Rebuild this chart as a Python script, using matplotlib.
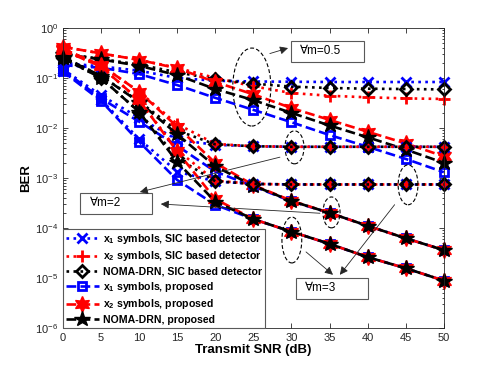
import matplotlib
matplotlib.use("Agg")
import matplotlib.pyplot as plt
from matplotlib.patches import Ellipse, Rectangle
from matplotlib.ticker import LogLocator, NullFormatter, NullLocator

plt.rcParams["font.family"] = ["Liberation Sans", "DejaVu Sans"]
plt.rcParams["mathtext.fontset"] = "custom"
plt.rcParams["mathtext.rm"] = "Liberation Sans"
plt.rcParams["mathtext.it"] = "Liberation Sans:italic"
plt.rcParams["mathtext.bf"] = "Liberation Sans:bold"

# Transmit SNR (dB)
snr_db = [0, 5, 10, 15, 20, 25, 30, 35, 40, 45, 50]

# m = 0.5
m05_sic_x1 = [0.20, 0.17, 0.14, 0.10, 0.088, 0.085, 0.084, 0.083, 0.083, 0.083, 0.083]
m05_sic_x2 = [0.42, 0.31, 0.23, 0.16, 0.10, 0.068, 0.050, 0.044, 0.041, 0.039, 0.038]
m05_sic_noma = [0.31, 0.24, 0.185, 0.13, 0.094, 0.077, 0.067, 0.063, 0.061, 0.060, 0.059]
m05_prop_x1 = [0.18, 0.16, 0.12, 0.072, 0.040, 0.023, 0.013, 0.0072, 0.0042, 0.0024, 0.0013]
m05_prop_x2 = [0.42, 0.31, 0.23, 0.156, 0.083, 0.047, 0.025, 0.0145, 0.0084, 0.0049, 0.0027]
m05_prop_noma = [0.30, 0.235, 0.175, 0.114, 0.060, 0.036, 0.020, 0.0112, 0.0065, 0.0037, 0.0020]

# m = 2
m2_sic_x1 = [0.15, 0.045, 0.016, 0.0058, 0.0046, 0.0043, 0.0042, 0.0042, 0.0042, 0.0042, 0.0042]
m2_sic_x2 = [0.38, 0.18, 0.053, 0.012, 0.0048, 0.0043, 0.0042, 0.0042, 0.0042, 0.0042, 0.0042]
m2_sic_noma = [0.265, 0.11, 0.034, 0.0089, 0.0047, 0.0043, 0.0042, 0.0042, 0.0042, 0.0042, 0.0042]
m2_prop_x1 = [0.145, 0.039, 0.0134, 0.0044, 0.00134, 6.8e-4, 3.4e-4, 2.0e-4, 1.1e-4, 6.2e-5, 3.6e-5]
m2_prop_x2 = [0.38, 0.18, 0.053, 0.0106, 0.0020, 7.2e-4, 3.5e-4, 2.0e-4, 1.1e-4, 6.2e-5, 3.6e-5]
m2_prop_noma = [0.26, 0.11, 0.033, 0.0075, 0.0017, 7.0e-4, 3.45e-4, 2.0e-4, 1.1e-4, 6.2e-5, 3.6e-5]

# m = 3
m3_sic_x1 = [0.14, 0.037, 0.006, 0.00134, 8.5e-4, 7.6e-4, 7.4e-4, 7.4e-4, 7.4e-4, 7.4e-4, 7.4e-4]
m3_sic_x2 = [0.36, 0.17, 0.036, 0.0036, 8.8e-4, 7.6e-4, 7.4e-4, 7.4e-4, 7.4e-4, 7.4e-4, 7.4e-4]
m3_sic_noma = [0.25, 0.10, 0.021, 0.0025, 8.6e-4, 7.6e-4, 7.4e-4, 7.4e-4, 7.4e-4, 7.4e-4, 7.4e-4]
m3_prop_x1 = [0.135, 0.035, 0.0053, 9.1e-4, 2.9e-4, 1.5e-4, 8.4e-5, 4.8e-5, 2.6e-5, 1.56e-5, 8.8e-6]
m3_prop_x2 = [0.36, 0.17, 0.036, 0.0034, 3.8e-4, 1.5e-4, 8.4e-5, 4.8e-5, 2.6e-5, 1.56e-5, 8.8e-6]
m3_prop_noma = [0.25, 0.10, 0.021, 0.0021, 3.35e-4, 1.5e-4, 8.4e-5, 4.8e-5, 2.6e-5, 1.56e-5, 8.8e-6]

legend_labels = [
    r"$\mathbf{x_1}$ symbols, SIC based detector",
    r"$\mathbf{x_2}$ symbols, SIC based detector",
    "NOMA-DRN, SIC based detector",
    r"$\mathbf{x_1}$ symbols, proposed",
    r"$\mathbf{x_2}$ symbols, proposed",
    "NOMA-DRN, proposed",
]

# line styles for the six curve types (SIC x1, x2, NOMA, proposed x1, x2, NOMA)
styles = [
    dict(color="blue", ls=":", marker="x", ms=6.5, mew=2),
    dict(color="red", ls=":", marker="+", ms=9, mew=2),
    dict(color="black", ls=":", marker="D", ms=6.5, mew=2, mfc="none"),
    dict(color="blue", ls="--", marker="s", ms=6, mew=2, mfc="none"),
    dict(color="red", ls="--", marker=(6, 1, 0), ms=11.5),
    dict(color="black", ls="--", marker="*", ms=11.5),
]


def plot_group(ax, series, with_labels):
    for i, (ys, st) in enumerate(zip(series, styles)):
        label = legend_labels[i] if with_labels else None
        ax.semilogy(snr_db, ys, lw=1.9, label=label, clip_on=False, **st)


def add_note(ax, text, x0, y0, w, h):
    ax.add_patch(Rectangle((x0, y0), w, h, transform=ax.transAxes, fill=True,
                           facecolor="white", edgecolor="0.35", lw=0.8, zorder=20,
                           clip_on=False))
    ax.text(x0 + 0.025, y0 + h / 2, text, transform=ax.transAxes, fontsize=8.5,
            va="center", ha="left", zorder=21)


def add_arrow(ax, start, end):
    ax.annotate(" ", xy=end, xytext=start, xycoords="axes fraction",
                textcoords="axes fraction", fontsize=1,
                arrowprops=dict(arrowstyle="-|>", color="0.15", lw=0.6,
                                mutation_scale=12, shrinkA=0, shrinkB=0),
                zorder=22)


def add_ellipse(ax, cx, cy, w, h):
    ax.add_patch(Ellipse((cx, cy), w, h, transform=ax.transAxes, fill=False,
                         ls=(0, (3.5, 2)), lw=0.8, edgecolor="black", zorder=19))


def main():
    fig = plt.figure(figsize=(4.91, 3.68), dpi=100)
    ax = fig.add_axes([0.128, 0.109, 0.776, 0.815])

    plot_group(ax, [m05_sic_x1, m05_sic_x2, m05_sic_noma,
                    m05_prop_x1, m05_prop_x2, m05_prop_noma], True)
    plot_group(ax, [m2_sic_x1, m2_sic_x2, m2_sic_noma,
                    m2_prop_x1, m2_prop_x2, m2_prop_noma], False)
    plot_group(ax, [m3_sic_x1, m3_sic_x2, m3_sic_noma,
                    m3_prop_x1, m3_prop_x2, m3_prop_noma], False)

    ax.set_xlim(0, 50)
    ax.set_ylim(1e-6, 1)
    ax.set_xticks(snr_db)
    ax.xaxis.set_minor_locator(NullLocator())
    ax.yaxis.set_major_locator(LogLocator(base=10, numticks=10))
    ax.yaxis.set_minor_locator(LogLocator(base=10, subs=range(2, 10), numticks=10))
    ax.yaxis.set_minor_formatter(NullFormatter())
    ax.tick_params(which="both", direction="in", top=True, right=True,
                   labelsize=8, colors="0.15", width=0.6)
    ax.tick_params(which="major", length=3.5)
    ax.tick_params(which="minor", length=1.8)
    for sp in ax.spines.values():
        sp.set_linewidth(0.6)
        sp.set_color("0.15")

    ax.set_xlabel("Transmit SNR (dB)", fontsize=9.5, fontweight="bold", labelpad=1)
    ax.set_ylabel("BER", fontsize=9.5, fontweight="bold", labelpad=2)

    leg = ax.legend(loc="lower left", bbox_to_anchor=(0, 0), borderaxespad=0,
                    prop={"weight": "bold", "size": 7.6}, fancybox=False,
                    edgecolor="0.35", framealpha=1, handlelength=3.1,
                    handletextpad=0.4, labelspacing=0.32, borderpad=0.3,
                    numpoints=1)
    leg.get_frame().set_linewidth(0.8)
    leg.set_zorder(25)

    # annotations
    add_ellipse(ax, 0.496, 0.803, 0.10, 0.26)
    add_ellipse(ax, 0.608, 0.602, 0.05, 0.11)
    add_ellipse(ax, 0.705, 0.385, 0.045, 0.103)
    add_ellipse(ax, 0.906, 0.477, 0.052, 0.133)
    add_ellipse(ax, 0.601, 0.293, 0.052, 0.153)

    add_note(ax, "\u2200m=0.5", 0.598, 0.887, 0.192, 0.07)
    add_note(ax, "\u2200m=2", 0.046, 0.38, 0.187, 0.07)
    add_note(ax, "\u2200m=3", 0.611, 0.096, 0.19, 0.071)

    add_arrow(ax, (0.535, 0.91), (0.591, 0.933))
    add_arrow(ax, (0.577, 0.57), (0.202, 0.453))
    add_arrow(ax, (0.682, 0.38), (0.257, 0.413))
    add_arrow(ax, (0.63, 0.26), (0.709, 0.177))
    add_arrow(ax, (0.877, 0.42), (0.727, 0.177))

    fig.savefig("out.png", dpi=100)


if __name__ == "__main__":
    main()
